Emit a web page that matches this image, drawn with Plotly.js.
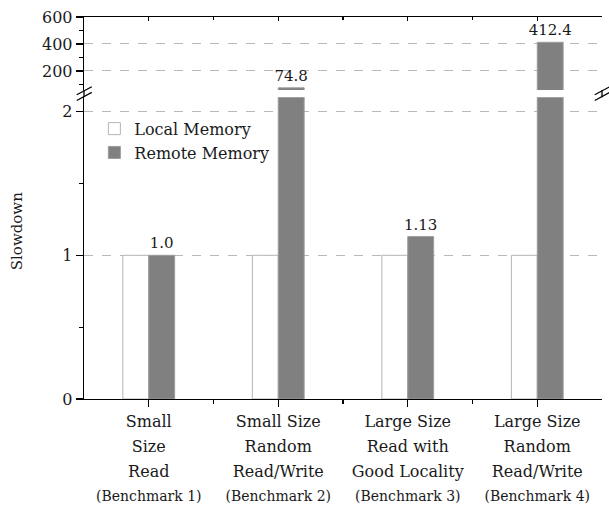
<!DOCTYPE html>
<html>
<head>
<meta charset="utf-8">
<script src="https://cdn.plot.ly/plotly-3.0.1.min.js"></script>
<style>
  html, body { margin: 0; padding: 0; background: #fff; }
  #chart { width: 609px; height: 506px; }
</style>
</head>
<body>
<div id="chart"></div>
<script>
// Benchmark categories (multi-line tick labels) and their sub-captions
const categories = [
  ['Small', 'Size', 'Read'],
  ['Small Size', 'Random', 'Read/Write'],
  ['Large Size', 'Read with', 'Good Locality'],
  ['Large Size', 'Random', 'Read/Write']
];
const benchmarks = ['(Benchmark 1)', '(Benchmark 2)', '(Benchmark 3)', '(Benchmark 4)'];

// Slowdown relative to local memory
const localSlowdown = [1, 1, 1, 1];
const remoteSlowdown = [1.0, 74.8, 1.13, 412.4];
const remoteDecimals = [1, 1, 2, 1];

// Broken y axis: lower and upper segments
const lowerRange = [0, 2.1];
const upperRange = [59, 600];
const lowerTicks = [0, 1, 2];
const lowerMinor = [0.5, 1.5];
const upperTicks = [200, 400, 600];
const upperMinor = [100, 300, 500];

const xPos = categories.map((_, i) => i);
const xMinor = xPos.slice(1).map(v => v - 0.5);

const tickText = categories.map((lines, i) =>
  lines.map(l => '<span style="font-size:16px">' + l + '</span>').join('<br>') +
  '<br><span style="font-size:14px">' + benchmarks[i] + '</span>'
);

const remoteText = remoteSlowdown.map((v, i) => v.toFixed(remoteDecimals[i]));
const lowerText = remoteText.map((t, i) => remoteSlowdown[i] <= lowerRange[1] ? t : '');
const upperText = remoteText.map((t, i) => remoteSlowdown[i] > lowerRange[1] ? t : '');

const serif = 'DejaVu Serif, serif';
const ink = '#1a1a1a';
const localStyle = { color: '#ffffff', line: { color: '#b4b4b4', width: 1 } };
const remoteStyle = { color: '#808080', line: { color: '#9c9c9c', width: 1 } };
const labelFont = { family: serif, size: 15, color: ink };

const traces = [
  { type: 'bar', name: 'Local Memory', x: xPos, y: localSlowdown, xaxis: 'x', yaxis: 'y',
    marker: localStyle, hoverinfo: 'skip' },
  { type: 'bar', name: 'Remote Memory', x: xPos, y: remoteSlowdown, xaxis: 'x', yaxis: 'y',
    marker: remoteStyle, text: lowerText, textposition: 'outside', textfont: labelFont,
    constraintext: 'none', cliponaxis: true, hoverinfo: 'skip' },
  { type: 'bar', name: 'Local Memory', x: xPos, y: localSlowdown, xaxis: 'x2', yaxis: 'y2',
    marker: localStyle, showlegend: false, hoverinfo: 'skip' },
  { type: 'bar', name: 'Remote Memory', x: xPos, y: remoteSlowdown, xaxis: 'x2', yaxis: 'y2',
    marker: remoteStyle, text: upperText, textposition: 'outside', textfont: labelFont,
    constraintext: 'none', cliponaxis: false, showlegend: false, hoverinfo: 'skip' }
];

const lowerTop = 0.79, upperBottom = 0.809;

const axisBase = {
  showline: true, linecolor: '#000', linewidth: 1.3, zeroline: false,
  tickcolor: '#000', tickwidth: 1.2
};

const layout = {
  width: 609, height: 506,
  margin: { l: 84, r: 7, t: 17, b: 107 },
  paper_bgcolor: '#fff', plot_bgcolor: '#fff',
  font: { family: serif, size: 16, color: ink },
  barmode: 'group', bargap: 0.6, bargroupgap: 0,
  showlegend: true,
  legend: {
    x: 0.02, y: 0.752, xanchor: 'left', yanchor: 'top',
    bgcolor: 'rgba(0,0,0,0)', font: { family: serif, size: 16, color: ink },
    tracegroupgap: 0
  },
  xaxis: Object.assign({}, axisBase, {
    domain: [0, 1], anchor: 'y', range: [-0.5, 3.5],
    tickmode: 'array', tickvals: xPos, ticktext: tickText, tickangle: 0,
    ticks: 'outside', ticklen: 7, showgrid: false, ticklabelstandoff: -3,
    tickfont: { family: serif, size: 19, color: ink },
    minor: { tickvals: xMinor, ticks: 'outside', ticklen: 3.5, tickcolor: '#000', showgrid: false }
  }),
  xaxis2: Object.assign({}, axisBase, {
    domain: [0, 1], anchor: 'y2', side: 'top', range: [-0.5, 3.5],
    tickmode: 'array', tickvals: xPos, ticks: 'inside', ticklen: 4,
    showticklabels: false, showgrid: false,
    minor: { tickvals: xMinor, ticks: 'inside', ticklen: 3, tickcolor: '#000', showgrid: false }
  }),
  yaxis: Object.assign({}, axisBase, {
    domain: [0, lowerTop], anchor: 'x', range: lowerRange,
    tickmode: 'array', tickvals: lowerTicks, ticks: 'outside', ticklen: 7,
    showgrid: true, gridcolor: '#b8b8b8', griddash: 'dash', gridwidth: 1,
    minor: { tickvals: lowerMinor, ticks: 'outside', ticklen: 4, tickcolor: '#000', showgrid: false }
  }),
  yaxis2: Object.assign({}, axisBase, {
    domain: [upperBottom, 1], anchor: 'x2', range: upperRange,
    tickmode: 'array', tickvals: upperTicks, ticks: 'outside', ticklen: 7,
    showgrid: true, gridcolor: '#b8b8b8', griddash: 'dash', gridwidth: 1,
    minor: { tickvals: upperMinor, ticks: 'outside', ticklen: 4, tickcolor: '#000', showgrid: false }
  }),
  yaxis3: Object.assign({}, axisBase, {
    overlaying: 'y', side: 'right', anchor: 'x', range: lowerRange,
    tickmode: 'array', tickvals: lowerTicks, ticks: 'inside', ticklen: 4,
    showticklabels: false, showgrid: false,
    minor: { tickvals: lowerMinor, ticks: 'inside', ticklen: 3, tickcolor: '#000', showgrid: false }
  }),
  yaxis4: Object.assign({}, axisBase, {
    overlaying: 'y2', side: 'right', anchor: 'x2', range: upperRange,
    tickmode: 'array', tickvals: upperTicks, ticks: 'inside', ticklen: 4,
    showticklabels: false, showgrid: false,
    minor: { tickvals: upperMinor, ticks: 'inside', ticklen: 3, tickcolor: '#000', showgrid: false }
  }),
  annotations: [
    { text: 'Slowdown', xref: 'paper', yref: 'paper', x: -0.15, y: 0.44,
      textangle: -90, showarrow: false, font: { family: serif, size: 15, color: ink } }
  ],
  shapes: []
};

// Axis-break marks on both vertical edges
const breakMid = (lowerTop + upperBottom) / 2;
[0, 1].forEach(xe => {
  layout.shapes.push({ type: 'line', xref: 'paper', yref: 'paper', x0: xe, x1: xe,
    y0: lowerTop, y1: upperBottom, line: { color: '#000', width: 1.3 } });
  [-0.0075, 0.0075].forEach(dy => {
    layout.shapes.push({ type: 'line', xref: 'paper', yref: 'paper',
      x0: xe - 0.014, x1: xe + 0.015,
      y0: breakMid + dy - 0.0105, y1: breakMid + dy + 0.0105,
      line: { color: '#000', width: 1.3 } });
  });
});

Plotly.newPlot('chart', traces, layout, { displayModeBar: false, staticPlot: true });
</script>
</body>
</html>
